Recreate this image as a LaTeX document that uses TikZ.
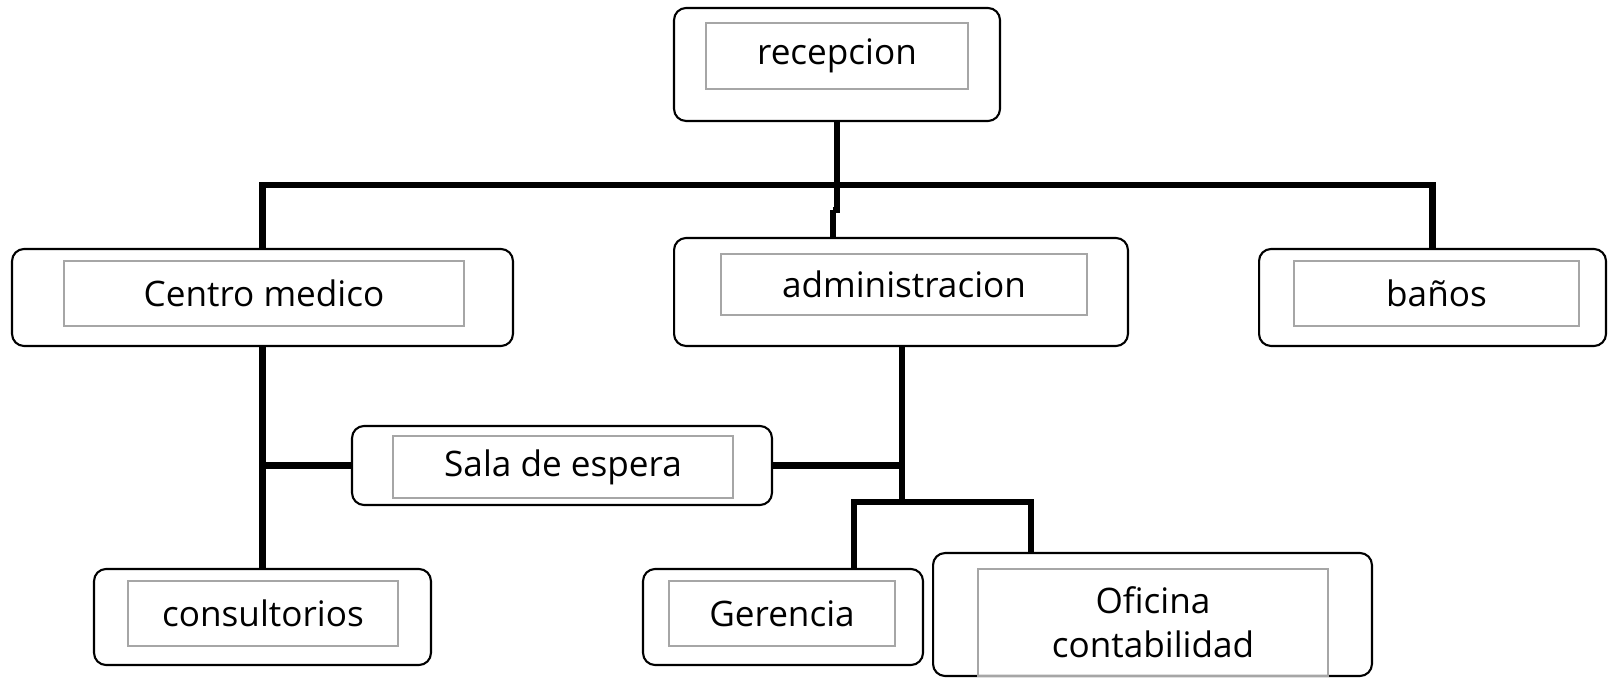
\documentclass[tikz,border=0pt]{standalone}
\usepackage{fontspec}
\setmainfont{Open Sans}

\begin{document}
\begin{tikzpicture}[x=0.02cm, y=-0.02cm]

\tikzset{room/.style = {shape=rectangle, draw, rounded corners=0.24cm, line width=1.2pt, fill=white}}
\tikzset{roomtext/.style = {shape=rectangle, draw=gray!70, line width=0.7pt, align=center, font=\fontsize{20}{25}\selectfont}}
\tikzset{link/.style = {line width=3.8pt}}

\useasboundingbox (0,0) rectangle (1608,678);

%rooms
\node[room, minimum width=6.52cm, minimum height=2.26cm] (rec) at (837,64.5) {};
\node[roomtext, minimum width=5.24cm, minimum height=1.32cm] (rec-t) at (837,56) {recepcion};
\node[room, minimum width=10.02cm, minimum height=1.94cm] (cen) at (262.5,297.5) {};
\node[roomtext, minimum width=8cm, minimum height=1.3cm] (cen-t) at (264,293.5) {Centro medico};
\node[room, minimum width=9.08cm, minimum height=2.16cm] (adm) at (901,292) {};
\node[roomtext, minimum width=7.32cm, minimum height=1.22cm] (adm-t) at (904,284.5) {administracion};
\node[room, minimum width=6.94cm, minimum height=1.94cm] (ban) at (1432.5,297.5) {};
\node[roomtext, minimum width=5.7cm, minimum height=1.3cm] (ban-t) at (1436.5,293.5) {baños};
\node[room, minimum width=8.4cm, minimum height=1.58cm] (sal) at (562,465.5) {};
\node[roomtext, minimum width=6.8cm, minimum height=1.24cm] (sal-t) at (563,467) {Sala de espera};
\node[room, minimum width=6.74cm, minimum height=1.92cm] (con) at (262.5,617) {};
\node[roomtext, minimum width=5.4cm, minimum height=1.3cm] (con-t) at (263,613.5) {consultorios};
\node[room, minimum width=5.6cm, minimum height=1.92cm] (ger) at (783,617) {};
\node[roomtext, minimum width=4.52cm, minimum height=1.3cm] (ger-t) at (782,613.5) {Gerencia};
\node[room, minimum width=8.78cm, minimum height=2.46cm] (ofi) at (1152.5,614.5) {};
\node[roomtext, minimum width=7cm, minimum height=2.14cm] (ofi-t) at (1153,622.5) {Oficina\\contabilidad};

%joints
\coordinate (top) at (837,185);
\coordinate (split) at (902,502);
\coordinate (g) at (854,502);
\coordinate (o) at (1031,502);

%links
\draw[link] (rec) -- (top);
\draw[link] (cen.north) |- (top) -| (ban.north);
\draw[link] (top) -- ++(0,25) -- ++(-4,0) coordinate (kink);
\draw[link] (kink) -- (kink |- adm.north);
\draw[link] (cen.south) -- (con.north);
\draw[link] (cen.south |- sal.west) -- (sal.west);
\draw[link] (sal.east) -- (split |- sal.east);
\draw[link] (adm.south -| split) -- (split);
\draw[link] (ger.north -| g) |- (o) -- (o |- ofi.north);

\end{tikzpicture}
\end{document}
